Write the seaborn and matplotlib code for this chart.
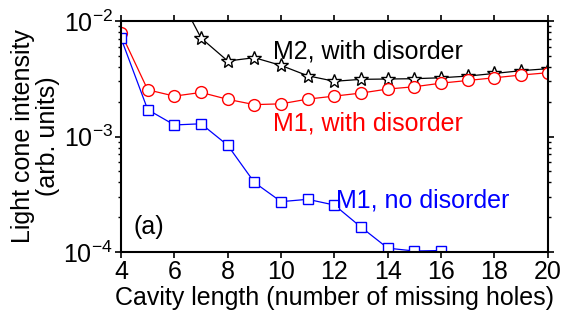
import numpy as np
import pandas as pd
import seaborn as sns
import matplotlib
matplotlib.use("Agg")
import matplotlib.pyplot as plt
from matplotlib.ticker import LogLocator, NullFormatter

# values
x_nodis = [4, 5, 6, 7, 8, 9, 10, 11, 12, 13, 14, 15, 16]
m1_nodis = [7.1e-3, 1.71e-3, 1.26e-3, 1.29e-3, 8.4e-4, 4.0e-4, 2.73e-4,
            2.86e-4, 2.55e-4, 1.64e-4, 1.08e-4, 1.02e-4, 1.03e-4]
x_m1 = list(range(4, 21))
m1_dis = [7.87e-3, 2.54e-3, 2.24e-3, 2.41e-3, 2.10e-3, 1.89e-3, 1.92e-3,
          2.11e-3, 2.24e-3, 2.38e-3, 2.58e-3, 2.70e-3, 2.90e-3, 3.06e-3,
          3.23e-3, 3.41e-3, 3.57e-3]
x_m2 = list(range(6, 21))
m2_dis = [1.97e-2, 7.13e-3, 4.51e-3, 4.82e-3, 4.13e-3, 3.36e-3, 3.01e-3,
          3.13e-3, 3.15e-3, 3.17e-3, 3.23e-3, 3.34e-3, 3.52e-3, 3.72e-3,
          3.87e-3]

sns.set_style("ticks")
plt.rcParams['font.family'] = ['Liberation Sans', 'DejaVu Sans']
plt.rcParams['mathtext.fontset'] = 'custom'
plt.rcParams['mathtext.rm'] = 'Liberation Sans'
plt.rcParams['font.size'] = 18
for key in ['text.color', 'axes.labelcolor', 'xtick.color', 'ytick.color',
            'axes.edgecolor']:
    plt.rcParams[key] = 'black'

fig = plt.figure(figsize=(5.63, 3.25), dpi=100)
ax = fig.add_axes([0.215, 0.2246, 0.758, 0.7105])

series = [
    (x_m2, m2_dis, 'black', '*', 10),
    (x_m1, m1_dis, 'red', 'o', 8.5),
    (x_nodis, m1_nodis, 'blue', 's', 7),
]
for xs, ys, col, mk, ms in series:
    dt = pd.DataFrame({'x': xs, 'y': ys})
    sns.lineplot(data=dt, x='x', y='y', ax=ax, color=col, lw=0.9,
                 marker=mk, markersize=ms, markerfacecolor='white',
                 markeredgecolor=col, markeredgewidth=1.0, clip_on=True)

ax.set_yscale('log')
ax.set_xlim(4, 20)
ax.set_ylim(1e-4, 1e-2)
ax.set_xticks(range(4, 21, 2))
ax.yaxis.set_major_locator(LogLocator(base=10, numticks=5))
ax.yaxis.set_minor_locator(LogLocator(base=10, subs=np.arange(2, 10), numticks=20))
ax.yaxis.set_minor_formatter(NullFormatter())

ax.tick_params(which='both', direction='out', top=True, right=True,
               labeltop=False, labelright=False, labelsize=18, pad=2)
ax.tick_params(which='major', length=4, width=1.2)
ax.tick_params(which='minor', length=2.5, width=1.0)
for sp in ax.spines.values():
    sp.set_linewidth(1.5)

ax.set_xlabel("Cavity length (number of missing holes)", fontsize=18, labelpad=1)
ax.set_ylabel("Light cone intensity\n(arb. units)", fontsize=18, labelpad=2,
              linespacing=1.05)

ax.text(9.71, 5.4e-3, "M2, with disorder", color='black', fontsize=18, va='center')
ax.text(9.71, 1.29e-3, "M1, with disorder", color='red', fontsize=18, va='center')
ax.text(12.07, 2.8e-4, "M1, no disorder", color='blue', fontsize=18, va='center')
ax.text(4.45, 1.64e-4, "(a)", color='black', fontsize=18, va='center')

fig.savefig("out.png", dpi=100)
